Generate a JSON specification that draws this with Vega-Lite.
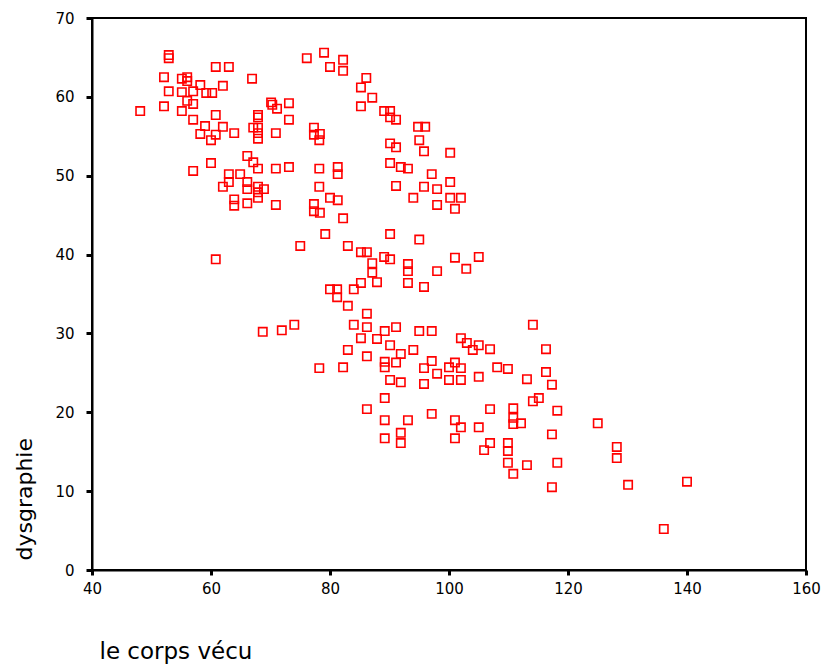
{
  "$schema": "https://vega.github.io/schema/vega-lite/v6.json",
  "width": 714,
  "height": 552,
  "autosize": {"type": "none"},
  "padding": {"left": 92, "top": 18, "right": 18, "bottom": 101},
  "background": "white",
  "config": {
    "view": {"stroke": "#000", "strokeWidth": 2},
    "axis": {
      "grid": false,
      "domainColor": "#000",
      "domainWidth": 2,
      "tickColor": "#000",
      "tickWidth": 3,
      "tickSize": 5,
      "labelFont": "DejaVu Sans",
      "labelFontSize": 15,
      "labelColor": "#000",
      "labelFlush": false,
      "labelOverlap": false,
      "titleFont": "DejaVu Sans",
      "titleFontWeight": "normal",
      "titleColor": "#000"
    }
  },
  "data": {"values": [
    {"corps":52.9,"dysgraphie":65.3},{"corps":52.9,"dysgraphie":64.9},{"corps":76.1,"dysgraphie":64.9},{"corps":79.0,"dysgraphie":65.6},
    {"corps":80.0,"dysgraphie":63.8},{"corps":60.8,"dysgraphie":63.8},{"corps":63.0,"dysgraphie":63.8},{"corps":52.1,"dysgraphie":62.5},
    {"corps":55.1,"dysgraphie":62.3},{"corps":56.0,"dysgraphie":62.5},{"corps":56.0,"dysgraphie":62.0},{"corps":66.9,"dysgraphie":62.3},
    {"corps":52.9,"dysgraphie":60.7},{"corps":55.1,"dysgraphie":60.6},{"corps":57.0,"dysgraphie":60.7},{"corps":58.2,"dysgraphie":61.5},
    {"corps":59.2,"dysgraphie":60.5},{"corps":60.2,"dysgraphie":60.5},{"corps":62.0,"dysgraphie":61.4},{"corps":56.0,"dysgraphie":59.5},
    {"corps":57.0,"dysgraphie":59.1},{"corps":52.1,"dysgraphie":58.8},{"corps":48.1,"dysgraphie":58.2},{"corps":55.1,"dysgraphie":58.2},
    {"corps":70.1,"dysgraphie":59.3},{"corps":70.3,"dysgraphie":59.0},{"corps":71.1,"dysgraphie":58.5},{"corps":73.1,"dysgraphie":59.2},
    {"corps":57.0,"dysgraphie":57.1},{"corps":60.8,"dysgraphie":57.7},{"corps":67.9,"dysgraphie":57.7},{"corps":67.9,"dysgraphie":57.4},
    {"corps":73.1,"dysgraphie":57.1},{"corps":59.0,"dysgraphie":56.3},{"corps":62.0,"dysgraphie":56.2},{"corps":58.2,"dysgraphie":55.3},
    {"corps":60.8,"dysgraphie":55.2},{"corps":60.0,"dysgraphie":54.5},{"corps":63.9,"dysgraphie":55.4},{"corps":67.1,"dysgraphie":56.1},
    {"corps":67.9,"dysgraphie":56.1},{"corps":67.9,"dysgraphie":55.4},{"corps":67.9,"dysgraphie":54.7},{"corps":70.9,"dysgraphie":55.4},
    {"corps":77.3,"dysgraphie":56.1},{"corps":77.3,"dysgraphie":55.2},{"corps":78.3,"dysgraphie":55.3},{"corps":78.2,"dysgraphie":54.5},
    {"corps":66.1,"dysgraphie":52.5},{"corps":67.1,"dysgraphie":51.7},{"corps":60.0,"dysgraphie":51.6},{"corps":57.0,"dysgraphie":50.6},
    {"corps":67.9,"dysgraphie":50.9},{"corps":70.9,"dysgraphie":50.9},{"corps":73.1,"dysgraphie":51.1},{"corps":78.2,"dysgraphie":50.9},
    {"corps":63.0,"dysgraphie":50.2},{"corps":63.0,"dysgraphie":49.2},{"corps":64.9,"dysgraphie":50.2},{"corps":66.1,"dysgraphie":49.2},
    {"corps":66.1,"dysgraphie":48.3},{"corps":62.0,"dysgraphie":48.6},{"corps":67.9,"dysgraphie":48.6},{"corps":67.9,"dysgraphie":47.9},
    {"corps":68.9,"dysgraphie":48.3},{"corps":67.9,"dysgraphie":47.2},{"corps":78.2,"dysgraphie":48.6},{"corps":80.0,"dysgraphie":47.2},
    {"corps":63.9,"dysgraphie":47.0},{"corps":63.9,"dysgraphie":46.2},{"corps":66.1,"dysgraphie":46.5},{"corps":70.9,"dysgraphie":46.3},
    {"corps":77.3,"dysgraphie":46.4},{"corps":77.3,"dysgraphie":45.5},{"corps":78.3,"dysgraphie":45.3},{"corps":79.2,"dysgraphie":42.6},
    {"corps":75.0,"dysgraphie":41.1},{"corps":60.8,"dysgraphie":39.4},{"corps":82.2,"dysgraphie":64.7},{"corps":82.2,"dysgraphie":63.3},
    {"corps":86.1,"dysgraphie":62.4},{"corps":85.2,"dysgraphie":61.2},{"corps":87.1,"dysgraphie":59.9},{"corps":85.2,"dysgraphie":58.8},
    {"corps":89.1,"dysgraphie":58.2},{"corps":90.1,"dysgraphie":58.2},{"corps":90.1,"dysgraphie":57.4},{"corps":91.1,"dysgraphie":57.1},
    {"corps":94.8,"dysgraphie":56.2},{"corps":96.0,"dysgraphie":56.2},{"corps":95.0,"dysgraphie":54.5},{"corps":95.8,"dysgraphie":53.1},
    {"corps":100.2,"dysgraphie":52.9},{"corps":90.1,"dysgraphie":54.1},{"corps":91.1,"dysgraphie":53.6},{"corps":81.3,"dysgraphie":51.1},
    {"corps":81.3,"dysgraphie":50.2},{"corps":90.1,"dysgraphie":51.6},{"corps":91.9,"dysgraphie":51.1},{"corps":93.1,"dysgraphie":50.9},
    {"corps":97.1,"dysgraphie":50.2},{"corps":100.2,"dysgraphie":49.2},{"corps":91.1,"dysgraphie":48.7},{"corps":95.8,"dysgraphie":48.6},
    {"corps":98.0,"dysgraphie":48.3},{"corps":94.0,"dysgraphie":47.2},{"corps":100.2,"dysgraphie":47.2},{"corps":102.0,"dysgraphie":47.2},
    {"corps":101.0,"dysgraphie":45.8},{"corps":81.3,"dysgraphie":46.9},{"corps":82.2,"dysgraphie":44.6},{"corps":90.1,"dysgraphie":42.6},
    {"corps":95.0,"dysgraphie":41.9},{"corps":83.0,"dysgraphie":41.1},{"corps":85.2,"dysgraphie":40.3},{"corps":86.2,"dysgraphie":40.3},
    {"corps":89.1,"dysgraphie":39.7},{"corps":90.1,"dysgraphie":39.4},{"corps":101.0,"dysgraphie":39.6},{"corps":105.0,"dysgraphie":39.7},
    {"corps":98.0,"dysgraphie":46.3},{"corps":87.1,"dysgraphie":38.9},{"corps":87.1,"dysgraphie":37.7},{"corps":93.1,"dysgraphie":38.8},
    {"corps":93.1,"dysgraphie":37.9},{"corps":102.9,"dysgraphie":38.2},{"corps":98.0,"dysgraphie":37.9},{"corps":85.2,"dysgraphie":36.4},
    {"corps":87.9,"dysgraphie":36.5},{"corps":93.1,"dysgraphie":36.4},{"corps":95.8,"dysgraphie":35.9},{"corps":80.0,"dysgraphie":35.6},
    {"corps":81.2,"dysgraphie":35.6},{"corps":81.2,"dysgraphie":34.6},{"corps":84.0,"dysgraphie":35.6},{"corps":83.0,"dysgraphie":33.5},
    {"corps":86.2,"dysgraphie":32.5},{"corps":84.0,"dysgraphie":31.1},{"corps":86.2,"dysgraphie":30.8},{"corps":89.2,"dysgraphie":30.3},
    {"corps":91.1,"dysgraphie":30.8},{"corps":95.0,"dysgraphie":30.3},{"corps":97.1,"dysgraphie":30.3},{"corps":85.2,"dysgraphie":29.4},
    {"corps":87.9,"dysgraphie":29.3},{"corps":90.1,"dysgraphie":28.5},{"corps":83.0,"dysgraphie":27.9},{"corps":86.2,"dysgraphie":27.1},
    {"corps":91.9,"dysgraphie":27.4},{"corps":94.0,"dysgraphie":27.9},{"corps":89.2,"dysgraphie":26.4},{"corps":89.2,"dysgraphie":25.7},
    {"corps":91.1,"dysgraphie":26.3},{"corps":97.1,"dysgraphie":26.5},{"corps":95.8,"dysgraphie":25.6},{"corps":98.0,"dysgraphie":24.9},
    {"corps":100.0,"dysgraphie":25.7},{"corps":101.0,"dysgraphie":26.3},{"corps":102.0,"dysgraphie":25.6},{"corps":102.0,"dysgraphie":29.4},
    {"corps":103.0,"dysgraphie":28.8},{"corps":104.0,"dysgraphie":27.9},{"corps":105.0,"dysgraphie":28.5},{"corps":106.9,"dysgraphie":28.0},
    {"corps":108.1,"dysgraphie":25.7},{"corps":78.2,"dysgraphie":25.6},{"corps":82.2,"dysgraphie":25.7},{"corps":90.1,"dysgraphie":24.1},
    {"corps":91.9,"dysgraphie":23.8},{"corps":95.8,"dysgraphie":23.6},{"corps":100.0,"dysgraphie":24.1},{"corps":102.0,"dysgraphie":24.1},
    {"corps":105.0,"dysgraphie":24.5},{"corps":89.2,"dysgraphie":21.8},{"corps":86.2,"dysgraphie":20.4},{"corps":89.2,"dysgraphie":19.0},
    {"corps":93.1,"dysgraphie":19.0},{"corps":97.1,"dysgraphie":19.8},{"corps":101.0,"dysgraphie":19.0},{"corps":102.0,"dysgraphie":18.1},
    {"corps":105.0,"dysgraphie":18.1},{"corps":106.9,"dysgraphie":20.4},{"corps":89.2,"dysgraphie":16.7},{"corps":91.9,"dysgraphie":17.4},
    {"corps":91.9,"dysgraphie":16.1},{"corps":101.0,"dysgraphie":16.7},{"corps":106.9,"dysgraphie":16.1},{"corps":105.9,"dysgraphie":15.2},
    {"corps":68.7,"dysgraphie":30.2},{"corps":71.9,"dysgraphie":30.4},{"corps":74.0,"dysgraphie":31.1},{"corps":114.1,"dysgraphie":31.1},
    {"corps":116.3,"dysgraphie":28.0},{"corps":109.9,"dysgraphie":25.5},{"corps":113.1,"dysgraphie":24.2},{"corps":116.3,"dysgraphie":25.1},
    {"corps":117.3,"dysgraphie":23.5},{"corps":114.1,"dysgraphie":21.4},{"corps":115.1,"dysgraphie":21.8},{"corps":118.2,"dysgraphie":20.2},
    {"corps":110.8,"dysgraphie":20.5},{"corps":110.8,"dysgraphie":19.3},{"corps":110.8,"dysgraphie":18.5},{"corps":112.1,"dysgraphie":18.6},
    {"corps":109.9,"dysgraphie":16.1},{"corps":109.9,"dysgraphie":15.1},{"corps":117.3,"dysgraphie":17.2},{"corps":125.0,"dysgraphie":18.6},
    {"corps":128.2,"dysgraphie":15.6},{"corps":128.2,"dysgraphie":14.2},{"corps":109.9,"dysgraphie":13.6},{"corps":113.1,"dysgraphie":13.3},
    {"corps":118.2,"dysgraphie":13.6},{"corps":110.8,"dysgraphie":12.2},{"corps":117.3,"dysgraphie":10.5},{"corps":130.1,"dysgraphie":10.8},
    {"corps":140.0,"dysgraphie":11.2},{"corps":136.1,"dysgraphie":5.2}
  ]},
  "mark": {"type": "point", "shape": "square", "filled": false, "color": "#ff0000", "size": 70, "strokeWidth": 1.6, "opacity": 1},
  "encoding": {
    "x": {
      "field": "corps", "type": "quantitative",
      "scale": {"domain": [40, 160], "nice": false, "zero": false},
      "axis": {
        "values": [40, 60, 80, 100, 120, 140, 160],
        "title": "le corps vécu",
        "titleFontSize": 23,
        "titleAnchor": "start", "titleAlign": "left", "titleBaseline": "alphabetic",
        "titleX": 7, "titleY": 88,
        "labelPadding": 6
      }
    },
    "y": {
      "field": "dysgraphie", "type": "quantitative",
      "scale": {"domain": [0, 70], "nice": false},
      "axis": {
        "values": [0, 10, 20, 30, 40, 50, 60, 70],
        "title": "dysgraphie",
        "titleFontSize": 22,
        "titleAngle": 270, "titleAlign": "left", "titleBaseline": "alphabetic",
        "titleX": -61, "titleY": 542,
        "labelPadding": 12, "tickSize": 6
      }
    }
  }
}
